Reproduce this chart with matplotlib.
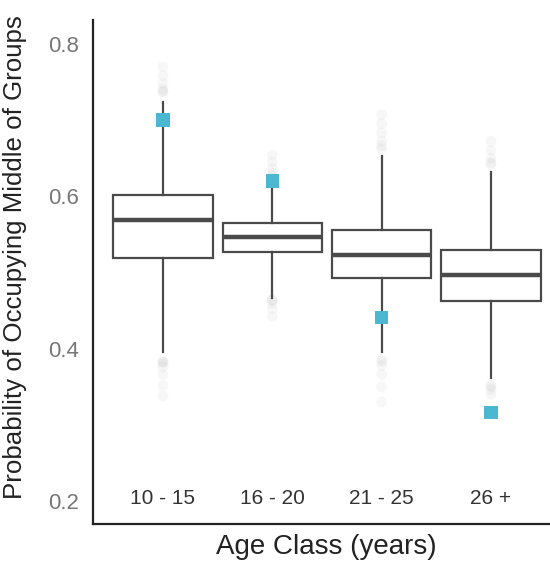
import matplotlib.pyplot as plt
import matplotlib as mpl

mpl.rcParams['font.family'] = 'Liberation Sans'

# data
age_classes = ['10 - 15', '16 - 20', '21 - 25', '26 +']
q1 = [0.519, 0.527, 0.492, 0.462]
medians = [0.569, 0.547, 0.523, 0.496]
q3 = [0.601, 0.565, 0.556, 0.530]
whisker_low = [0.396, 0.467, 0.396, 0.362]
whisker_high = [0.724, 0.620, 0.652, 0.632]
observed = [0.700, 0.620, 0.441, 0.316]
outliers = [
    [0.383, 0.383, 0.381, 0.376, 0.366, 0.352, 0.338,
     0.737, 0.737, 0.740, 0.748, 0.758, 0.770],
    [0.464, 0.464, 0.460, 0.452, 0.442,
     0.626, 0.630, 0.636, 0.645, 0.654],
    [0.386, 0.383, 0.378, 0.366, 0.350, 0.330,
     0.662, 0.666, 0.672, 0.683, 0.695, 0.707],
    [0.352, 0.350, 0.346, 0.340,
     0.642, 0.644, 0.650, 0.660, 0.672],
]

fig = plt.figure(figsize=(5.5, 5.66), dpi=100)
ax = fig.add_axes([93 / 550, 42 / 566, 457 / 550, 504 / 566])

positions = list(range(1, len(age_classes) + 1))
stats = []
for i in range(len(age_classes)):
    stats.append({'med': medians[i], 'q1': q1[i], 'q3': q3[i],
                  'whislo': whisker_low[i], 'whishi': whisker_high[i],
                  'fliers': []})

ax.bxp(stats, positions=positions, widths=0.91, showfliers=False,
       patch_artist=True,
       boxprops=dict(facecolor='white', edgecolor='#4a4a4a', linewidth=1.6),
       medianprops=dict(color='#4a4a4a', linewidth=3.2),
       whiskerprops=dict(color='#4a4a4a', linewidth=1.6),
       capprops=dict(linewidth=0), zorder=2)

for i, vals in enumerate(outliers):
    ax.scatter([positions[i]] * len(vals), vals, s=60, color='#a0a0a0',
               alpha=0.08, edgecolors='none', zorder=1)

ax.scatter(positions, observed, marker='s', s=95, color='#4bb7d0',
           edgecolors='none', zorder=3)

ax.set_xlim(0.36, 4.54)
ax.set_ylim(0.170, 0.831)
ax.set_yticks([0.2, 0.4, 0.6, 0.8])
ax.set_yticklabels(['0.2', '0.4', '0.6', '0.8'])
ax.set_xticks(positions)
ax.set_xticklabels(age_classes)
ax.tick_params(axis='y', length=0, pad=10, labelsize=16, labelcolor='#777777')
ax.tick_params(axis='x', length=0, pad=-25, labelsize=15, labelcolor='#333333')

ax.spines['top'].set_visible(False)
ax.spines['right'].set_visible(False)
ax.spines['left'].set_linewidth(1.6)
ax.spines['bottom'].set_linewidth(1.6)
ax.spines['left'].set_color('#222222')
ax.spines['bottom'].set_color('#222222')

ax.set_xlabel('Age Class (years)', fontsize=20, color='#222222')
ax.set_ylabel('Probability of Occupying Middle of Groups', fontsize=18.6,
              color='#222222')
ax.xaxis.set_label_coords(0.51, -0.02)
ax.yaxis.set_label_coords(-0.145, 0.53)

plt.savefig('out.png', dpi=100)
